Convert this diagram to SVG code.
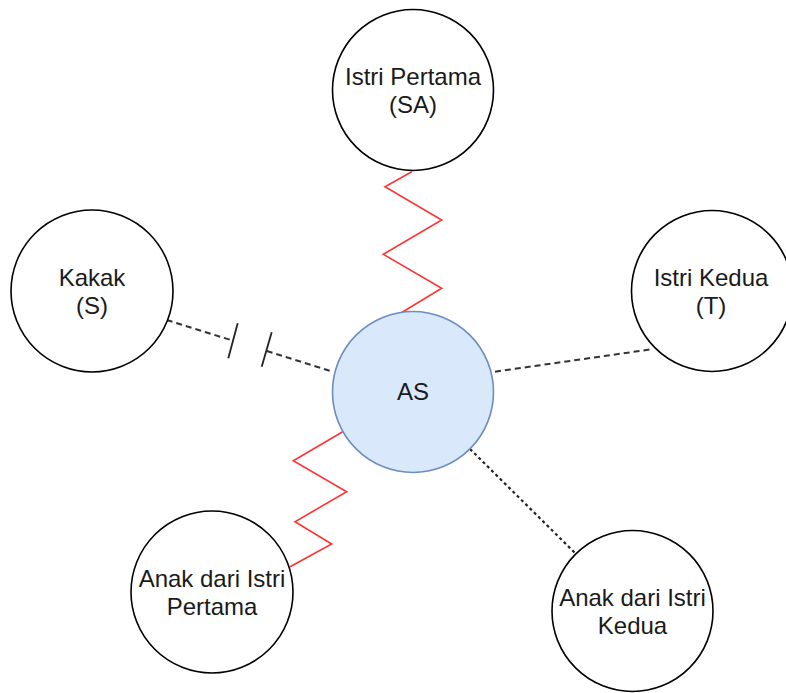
<svg xmlns="http://www.w3.org/2000/svg" width="786" height="693" viewBox="0 0 786 693">
<style>
.node{fill:#ffffff;stroke:#000000;stroke-width:1.6}
.main{fill:#dae8fc;stroke:#6c8ebf;stroke-width:1.6}
.lbl{font-family:"Liberation Sans",Arial,Helvetica,sans-serif;font-size:24px;fill:#1a1a1a;text-anchor:middle}
.zig{fill:none;stroke:#ff3333;stroke-width:1.6;stroke-linejoin:miter}
.dash{fill:none;stroke:#333333;stroke-width:2;stroke-dasharray:6 4}
.dot{fill:none;stroke:#222222;stroke-width:2.2;stroke-dasharray:3 3}
.tick{fill:none;stroke:#222222;stroke-width:1.8}
</style>
<g id="connectors">
<polyline class="zig" points="411.7,171.7 385,186.7 441.7,220 383.3,254.3 441.7,288.3 401.7,312.5"/>
<polyline class="zig" points="342.7,431.7 293.3,460.7 346.7,491.7 295,521.7 331.7,544 290,566.7"/>
<line class="dash" x1="166.7" y1="320" x2="233" y2="340.7"/>
<line class="dash" x1="266.7" y1="351" x2="332.7" y2="371.7"/>
<line class="tick" x1="237.7" y1="323.3" x2="228.3" y2="358.3"/>
<line class="tick" x1="271.7" y1="332.3" x2="261.7" y2="366.7"/>
<line class="dash" x1="495" y1="371.7" x2="653.3" y2="349"/>
<line class="dot" x1="470" y1="449" x2="574.5" y2="552.5"/>
</g>
<g id="istri-pertama">
<circle class="node" cx="413" cy="90" r="80.5"/>
<text class="lbl" x="413" y="85">Istri Pertama</text>
<text class="lbl" x="413" y="113">(SA)</text>
</g>
<g id="kakak">
<circle class="node" cx="92" cy="291" r="81"/>
<text class="lbl" x="92" y="286">Kakak</text>
<text class="lbl" x="92" y="314">(S)</text>
</g>
<g id="istri-kedua">
<circle class="node" cx="712" cy="291" r="80.5"/>
<text class="lbl" x="711" y="286">Istri Kedua</text>
<text class="lbl" x="711" y="314">(T)</text>
</g>
<g id="as">
<circle class="main" cx="413" cy="392" r="80.5"/>
<text class="lbl" x="413" y="400">AS</text>
</g>
<g id="anak-istri-pertama">
<circle class="node" cx="212" cy="592" r="81"/>
<text class="lbl" x="212" y="587">Anak dari Istri</text>
<text class="lbl" x="212" y="615">Pertama</text>
</g>
<g id="anak-istri-kedua">
<circle class="node" cx="632.5" cy="611" r="80.5"/>
<text class="lbl" x="632.5" y="606">Anak dari Istri</text>
<text class="lbl" x="632.5" y="634">Kedua</text>
</g>
</svg>
